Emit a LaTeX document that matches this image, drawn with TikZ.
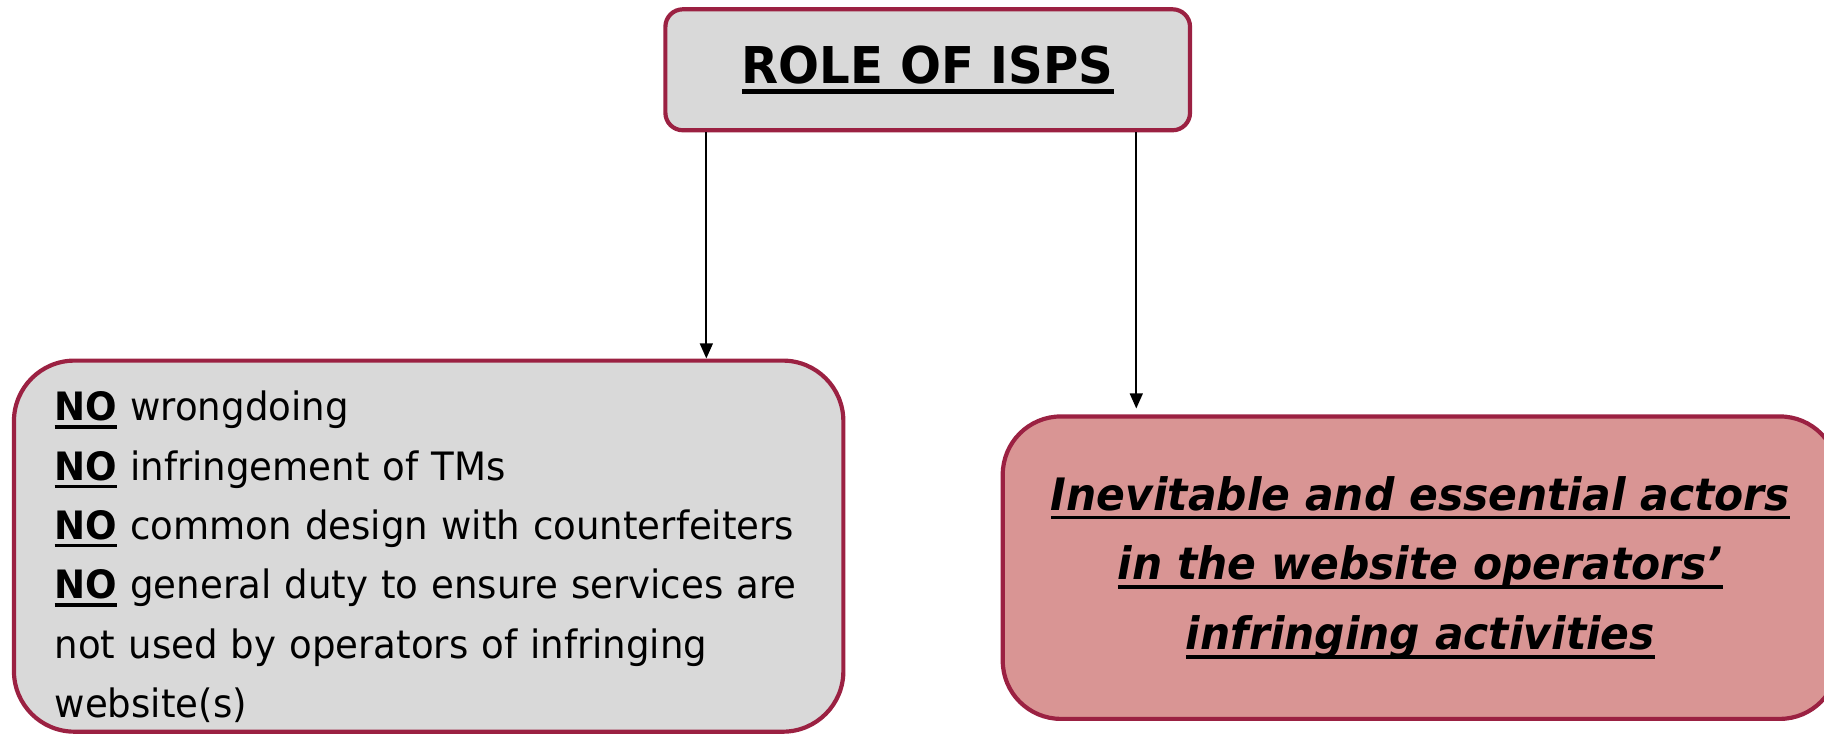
\documentclass[tikz,border=0pt]{standalone}
\usepackage{fontspec}
\setmainfont{DejaVu Sans}[FakeStretch=0.95]
\usetikzlibrary{arrows.meta,positioning}
\definecolor{ispred}{RGB}{155,33,66}
\definecolor{boxgrey}{RGB}{217,217,217}
\definecolor{boxrose}{RGB}{217,149,148}
\newcommand{\thickul}[2][1.4pt]{\setbox0=\hbox{#2}\leavevmode\rlap{\rule[-0.2em]{\wd0}{#1}}\box0\relax}
\tikzset{
    box/.style = {rectangle, draw=ispred, line width=1.8pt, fill=boxgrey, inner sep=0pt},
    flow/.style = {-{Triangle[length=6.5pt,width=5.5pt]}, line width=0.9pt, black}
}

\begin{document}
\begin{tikzpicture}[x=0.5pt,y=0.5pt]
    \useasboundingbox (0,0) rectangle (1568,631);
    \node[box, rounded corners=7.5pt, minimum width=225.5pt, minimum height=52pt,
          font=\fontsize{21.8}{26}\selectfont\bfseries] (title) at (797.5,571) {\thickul[1.8pt]{ROLE OF ISPS}};
    \node[box, rounded corners=26pt, minimum width=356.5pt, minimum height=159.5pt,
          text width=321.5pt, align=left, font=\fontsize{16.8}{25.5}\selectfont] (nobox) at (368.5,161.5)
          {\rule{0pt}{22pt}\thickul{\textbf{NO}} wrongdoing\\
           \thickul{\textbf{NO}} infringement of TMs\\
           \thickul{\textbf{NO}} common design with counterfeiters\\
           \thickul{\textbf{NO}} general duty to ensure services are\\
           not used by operators of infringing\\
           website(s)};
    \node[box, fill=boxrose, rounded corners=25pt, minimum width=359pt, minimum height=130pt,
          align=center, font=\fontsize{19.2}{30}\selectfont\bfseries\itshape] (actbox) at (1221,143)
          {\thickul{Inevitable and essential actors}\\
           \thickul{in the website operators’}\\
           \thickul{infringing activities}};

    \coordinate (t1) at ([xshift=18.5pt]title.south west);
    \coordinate (t2) at ([xshift=-24pt]title.south east);
    \draw[flow] (t1) -- (t1 |- nobox.north);
    \draw[flow] (t2) -- ([yshift=2.5pt]t2 |- actbox.north);
\end{tikzpicture}
\end{document}
